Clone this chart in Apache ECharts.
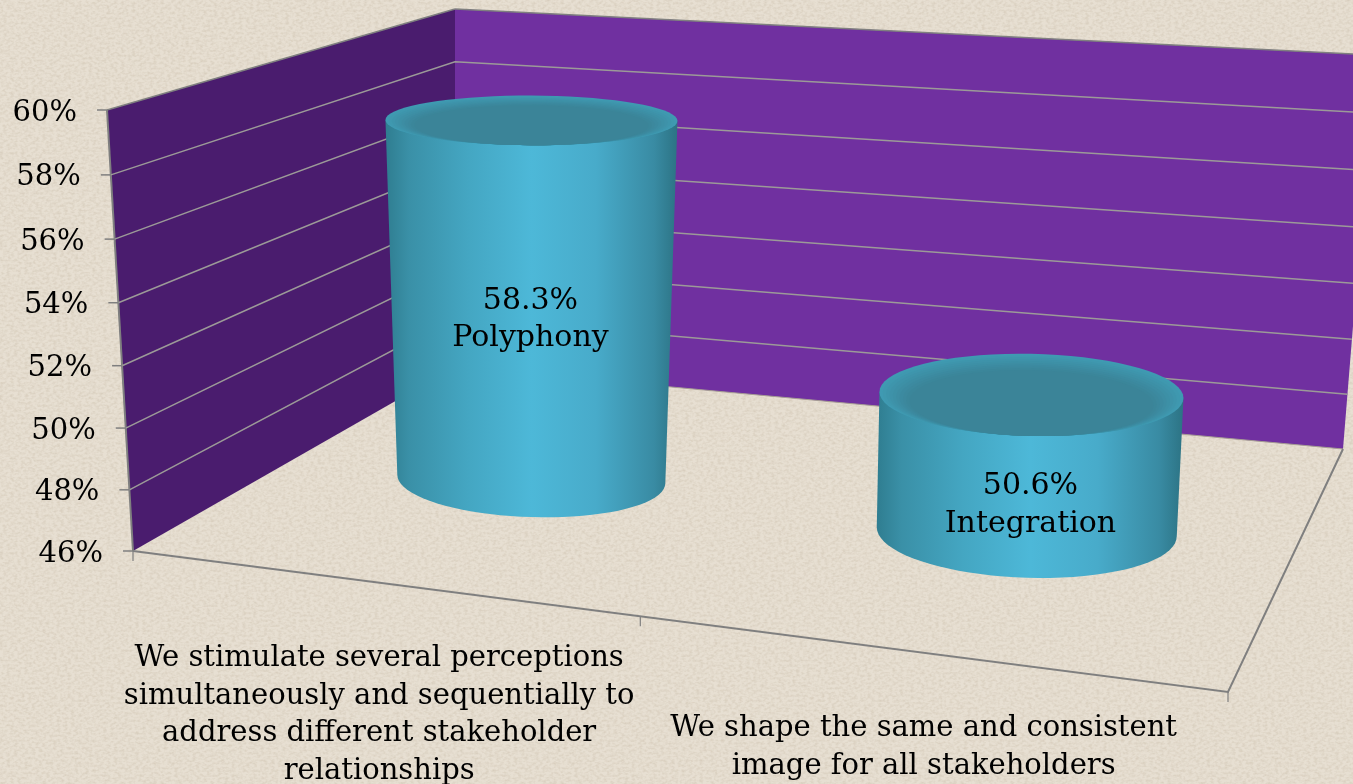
<!DOCTYPE html>
<html>
<head>
<meta charset="utf-8">
<title>Polyphony and Integration</title>
<style>
html, body { margin: 0; padding: 0; width: 100%; height: 100%; overflow: hidden; background-color: #e7dfd2; }
/* parchment mottling, no image file needed */
body { background-image: url("data:image/svg+xml,%3Csvg xmlns='http://www.w3.org/2000/svg' width='400' height='400'%3E%3Cfilter id='n' x='0' y='0' width='100%25' height='100%25'%3E%3CfeTurbulence type='fractalNoise' baseFrequency='0.28 0.4' numOctaves='2' seed='7' stitchTiles='stitch'/%3E%3CfeColorMatrix values='0 0 0 0 0.55 0 0 0 0 0.47 0 0 0 0 0.36 0 0 0 0.8 -0.3'/%3E%3C/filter%3E%3Crect width='400' height='400' filter='url(%23n)'/%3E%3C/svg%3E"); }
#main { width: 1353px; height: 784px; }
</style>
</head>
<body>
<div id="main"></div>
<script src="https://cdn.jsdelivr.net/npm/echarts@6/dist/echarts.min.js"></script>
<script>
var categories = [
	'We stimulate several perceptions\nsimultaneously and sequentially to\naddress different stakeholder\nrelationships',
	'We shape the same and consistent\nimage for all stakeholders'
];
var seriesNames = ['Polyphony', 'Integration'];
var seriesValues = [58.3, 50.6];
var tickValues = [46, 48, 50, 52, 54, 56, 58, 60];
var tickLabels = ['46%', '48%', '50%', '52%', '54%', '56%', '58%', '60%'];

var FONT = '"DejaVu Serif", serif';
var TEXT_SIZE = 29;
var LABEL_SIZE = 30;
var GRID_COLOR = '#9c9a98';
var AXIS_COLOR = '#7f7f7f';

// floor corners on screen: front-left, front-right, back-right, back-left
var floorQuad = [[133, 551], [1228, 692], [1343, 449], [455, 367]];
// how far the full axis height rises from each of those corners
var riseQuad = [[-26, -441], [25, -470], [32, -394], [0, -358]];
var PERSPECTIVE = 1.035;

// cylinder look, one entry per bar
var barDepth = 0.47;
var barRx = [134, 150];
var barRxTop = [146, 152];
var barRy = [38, 46];
var barNudge = [[9, 1], [13, 0]];
var barTopNudge = [3, -1];
var labelAt = [0.553, 0.8];

function quadMap(q) {
	var sx = q[0][0] - q[1][0] + q[2][0] - q[3][0];
	var sy = q[0][1] - q[1][1] + q[2][1] - q[3][1];
	var dx1 = q[1][0] - q[2][0], dx2 = q[3][0] - q[2][0];
	var dy1 = q[1][1] - q[2][1], dy2 = q[3][1] - q[2][1];
	var det = dx1 * dy2 - dx2 * dy1;
	var g = (sx * dy2 - dx2 * sy) / det;
	var h = (dx1 * sy - sx * dy1) / det;
	var a = q[1][0] - q[0][0] + g * q[1][0];
	var b = q[3][0] - q[0][0] + h * q[3][0];
	var d = q[1][1] - q[0][1] + g * q[1][1];
	var e = q[3][1] - q[0][1] + h * q[3][1];
	return function (u, v) {
		var w = g * u + h * v + 1;
		return [(a * u + b * v + q[0][0]) / w, (d * u + e * v + q[0][1]) / w];
	};
}
var floorAt = quadMap(floorQuad);

function riseAt(u, v, k) {
	var front = riseQuad[0][k] * (1 - u) + riseQuad[1][k] * u;
	var back = riseQuad[3][k] * (1 - u) + riseQuad[2][k] * u;
	return front * (1 - v) + back * v;
}

// u across the categories, depth front to back, both 0..1. height comes off the value axis
function project(params, api, u, depth, value) {
	var cs = params.coordSys;
	var t = (cs.y + cs.height - api.coord([0, value])[1]) / cs.height;
	var f = t / (t + (1 - t) * PERSPECTIVE);
	var p0 = floorAt(u, depth);
	return [p0[0] + riseAt(u, depth, 0) * f, p0[1] + riseAt(u, depth, 1) * f];
}

function categoryU(params, api, idx) {
	var cs = params.coordSys;
	return (api.coord([idx, tickValues[0]])[0] - cs.x) / cs.width;
}

function ellipsePoints(c, rx, ry, tilt, from, to, steps) {
	var pts = [];
	for (var i = 0; i <= steps; i++) {
		var a = from + (to - from) * i / steps;
		pts.push([c[0] + rx * Math.cos(a), c[1] + ry * Math.sin(a) + tilt * Math.cos(a)]);
	}
	return pts;
}

function renderWalls(params, api) {
	var lo = tickValues[0], hi = tickValues[tickValues.length - 1];
	var fl = project(params, api, 0, 0, lo), tl = project(params, api, 0, 0, hi);
	var bl = project(params, api, 0, 1, lo), bt = project(params, api, 0, 1, hi);
	var rl = project(params, api, 1, 1, lo), rt = project(params, api, 1, 1, hi);
	return {
		type: 'group',
		children: [
			{ type: 'polygon', shape: { points: [bt, rt, rl, bl] }, style: { fill: '#7030a0' } },
			{ type: 'polygon', shape: { points: [tl, bt, bl, fl] }, style: { fill: '#4a1c6e' } },
			{ type: 'polyline', shape: { points: [bt, rt] }, style: { fill: null, stroke: AXIS_COLOR, lineWidth: 1.5 } },
			{ type: 'polyline', shape: { points: [tl, bt] }, style: { fill: null, stroke: AXIS_COLOR, lineWidth: 1.5 } },
			{ type: 'polyline', shape: { points: [bl, rl] }, style: { fill: null, stroke: '#a59c93', lineWidth: 1 } },
			{ type: 'polyline', shape: { points: [tl, fl] }, style: { fill: null, stroke: AXIS_COLOR, lineWidth: 2 } }
		]
	};
}

function renderTick(params, api) {
	var v = api.value(1);
	var front = project(params, api, 0, 0, v);
	var back = project(params, api, 0, 1, v);
	var right = project(params, api, 1, 1, v);
	var kids = [
		{ type: 'line', shape: { x1: front[0] - 10, y1: front[1], x2: front[0], y2: front[1] }, style: { stroke: AXIS_COLOR, lineWidth: 1.5 } },
		{ type: 'text', x: front[0] - 30, y: front[1] + 3, style: { text: tickLabels[params.dataIndex], font: TEXT_SIZE + 'px ' + FONT, fill: '#000', align: 'right', verticalAlign: 'middle' } }
	];
	if (params.dataIndex > 0 && params.dataIndex < tickValues.length - 1) {
		kids.unshift({ type: 'polyline', shape: { points: [front, back, right] }, style: { fill: null, stroke: GRID_COLOR, lineWidth: 1.5 } });
	}
	return { type: 'group', children: kids };
}

function renderFloor(params, api) {
	var lo = tickValues[0];
	var a = project(params, api, 0, 0, lo), b = project(params, api, 1, 0, lo), c = project(params, api, 1, 1, lo);
	var kids = [{ type: 'polyline', shape: { points: [a, b, c] }, style: { fill: null, stroke: AXIS_COLOR, lineWidth: 2 } }];
	[0, 0.506, 1].forEach(function (u) {
		var p = project(params, api, u, 0, lo);
		kids.push({ type: 'line', shape: { x1: p[0], y1: p[1], x2: p[0], y2: p[1] + 10 }, style: { stroke: AXIS_COLOR, lineWidth: 1.2 } });
	});
	categories.forEach(function (name, i) {
		var p = project(params, api, categoryU(params, api, i), 0, lo);
		kids.push({ type: 'text', x: p[0] + 6, y: p[1] + 58, style: { text: name, font: TEXT_SIZE + 'px ' + FONT, fill: '#000', align: 'center', verticalAlign: 'top', lineHeight: 37.5 } });
	});
	return { type: 'group', children: kids };
}

function renderCylinder(params, api) {
	var i = params.dataIndex;
	var u = categoryU(params, api, i);
	var cs = params.coordSys;
	var value = api.value(1);
	var t = (cs.y + cs.height - api.coord([i, value])[1]) / cs.height;
	var base = project(params, api, u, barDepth, tickValues[0]);
	var top = project(params, api, u, barDepth, value);
	base = [base[0] + barNudge[i][0], base[1] + barNudge[i][1]];
	top = [top[0] + barNudge[i][0] + barTopNudge[i], top[1] + barNudge[i][1]];

	var rxTop = barRxTop[i], ryTop = barRy[i] - 15 * t;
	var tiltBase = barRx[i] * 0.03;
	var tiltTop = tiltBase * (1 - t);

	var body = ellipsePoints(base, barRx[i], barRy[i], tiltBase, Math.PI, 0, 40);
	body.unshift([top[0] - rxTop, top[1] - tiltTop]);
	body.push([top[0] + rxTop, top[1] + tiltTop]);

	var kids = [{
		type: 'polygon',
		shape: { points: body },
		style: {
			fill: {
				type: 'linear', x: 0, y: 0, x2: 1, y2: 0,
				colorStops: [
					{ offset: 0, color: '#2f7d90' },
					{ offset: 0.08, color: '#3a90a7' },
					{ offset: 0.28, color: '#44a6c2' },
					{ offset: 0.5, color: '#4db8d8' },
					{ offset: 0.72, color: '#48abca' },
					{ offset: 0.92, color: '#398ba3' },
					{ offset: 1, color: '#2c7384' }
				]
			}
		}
	}];
	// cap: stacked ellipses slid towards the front edge, lighter rim at the back and sides
	var capSteps = ['#3f9ab2', '#3f98af', '#3e95ac', '#3e92a9', '#3d90a6', '#3d8da3', '#3c8aa0', '#3c889d', '#3b869a', '#3b8498'];
	capSteps.forEach(function (color, k) {
		var s = 1 - k * 0.022;
		var c = [top[0], top[1] + ryTop * (1 - s)];
		kids.push({
			type: 'polygon',
			shape: { points: ellipsePoints(c, rxTop * s, ryTop * s, tiltTop * s, 0, Math.PI * 2, 72) },
			style: { fill: color }
		});
	});
	var lx = top[0] - 1, ly = top[1] + 1 + (base[1] - top[1]) * labelAt[i];
	kids.push({
		type: 'text', x: lx, y: ly,
		style: {
			text: value.toFixed(1) + '%\n' + seriesNames[i],
			font: LABEL_SIZE + 'px ' + FONT, fill: '#000',
			align: 'center', verticalAlign: 'middle', lineHeight: 37.5
		}
	});
	return { type: 'group', children: kids };
}

var chart = echarts.init(document.getElementById('main'), null, { renderer: 'canvas' });
chart.setOption({
	backgroundColor: 'transparent',
	animation: false,
	grid: { left: 133, right: 125, top: 110, bottom: 233 },
	xAxis: { type: 'category', data: categories, show: false },
	yAxis: { type: 'value', min: 46, max: 60, interval: 2, show: false },
	series: [
		{ type: 'custom', name: 'walls', silent: true, data: [[0, 46]], renderItem: renderWalls },
		{ type: 'custom', name: 'ticks', silent: true, data: tickValues.map(function (v) { return [0, v]; }), renderItem: renderTick },
		{ type: 'custom', name: 'floor', silent: true, data: [[0, 46]], renderItem: renderFloor },
		{ type: 'custom', name: 'cylinders', silent: true, data: seriesValues.map(function (v, i) { return [i, v]; }), renderItem: renderCylinder }
	]
});
</script>
</body>
</html>
